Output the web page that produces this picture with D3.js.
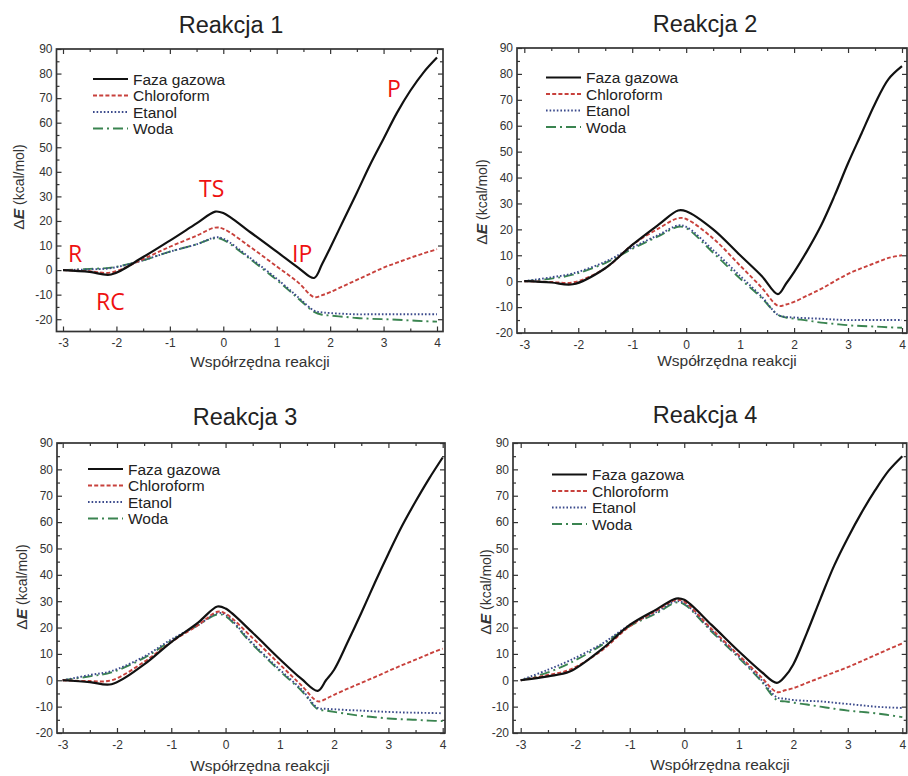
<!DOCTYPE html>
<html>
<head>
<meta charset="utf-8">
<script src="https://cdn.jsdelivr.net/npm/d3@7"></script>
<style>
  body { margin: 0; background: #fff; }
  svg { display: block; font-family: "Liberation Sans", Arial, sans-serif; }
  .tick text { fill: #333; font-size: 12px; }
  .tick line { stroke: #333; stroke-width: 1.2; }
</style>
</head>
<body>
<div id="chart"></div>
<script>
// reaction coordinate grid (shared by all curves)
var coord = [-3, -2.5, -2.1, -1.5, -1, -0.5, -0.15, 0, 0.5, 1, 1.4, 1.7, 1.85, 2, 2.25, 2.5, 2.75, 3, 3.25, 3.5, 3.75, 4];

// Reakcja 1
var r1Gas = [0, -0.7, -1.8, 5.3, 12, 19, 23.8, 23.2, 15.5, 7.5, 1, -3.2, 2.5, 9, 20.3, 31.5, 43, 53.5, 64, 73, 80.5, 86.5];
var r1Chl = [0, -0.5, -1, 4.5, 9.5, 14, 17.3, 16.8, 9.5, 1.5, -5, -11, -10.2, -9, -6.5, -4, -1.5, 1, 3, 5, 6.8, 8.5];
var r1Eta = [0, 0.3, 0.8, 4, 7.5, 10.5, 13.3, 12.8, 5, -3.5, -11, -16.5, -17.2, -17.5, -17.8, -18, -18, -18, -18, -18, -18, -18];
var r1Wat = [0, 0.5, 1, 4, 7.5, 10.5, 13, 12.3, 4.5, -4, -11.5, -17, -18.2, -18.5, -19, -19.5, -19.8, -20, -20.2, -20.5, -20.8, -21];

// Reakcja 2
var r2Gas = [0, -0.5, -1.2, 5, 14, 22, 27.3, 27, 20, 10, 2, -5, -1, 3.5, 12, 21.5, 33, 45.5, 57, 68.5, 78, 83];
var r2Chl = [0, -0.3, -0.5, 5, 14, 20.5, 24.3, 24, 16.5, 6, -2.5, -9.5, -9, -8, -5.5, -3, 0, 2.8, 5, 7, 9, 10];
var r2Eta = [0, 1.5, 3, 7.5, 13, 18, 21.5, 21, 12, 2, -6, -13, -13.8, -14, -14.3, -14.5, -14.8, -15, -15, -15, -15, -15];
var r2Wat = [0, 1, 2.5, 7, 12.5, 17.5, 21, 20.5, 11, 1, -6.5, -13, -14, -14.5, -15.2, -16, -16.5, -17, -17.3, -17.5, -17.8, -18];

// Reakcja 3
var r3Gas = [0, -0.7, -1.5, 6, 14.5, 22, 28, 27.2, 18, 8, 0.5, -4, 0, 4, 14.5, 25.5, 37, 48, 58.5, 67.8, 76.5, 84.5];
var r3Chl = [0, -0.3, 0, 7, 14.5, 21, 26, 25.3, 16, 6, -2, -8, -7, -5.5, -3.2, -1, 1.2, 3.5, 5.7, 7.8, 10, 12];
var r3Eta = [0, 2, 3.5, 9, 15.5, 21, 25.5, 24.8, 14, 4, -3.5, -10.5, -10.8, -11, -11.3, -11.5, -11.8, -12, -12.2, -12.3, -12.4, -12.5];
var r3Wat = [0, 1.5, 3, 8.5, 15, 21, 25, 24.3, 13.5, 3.5, -4, -11, -11.5, -12, -12.8, -13.5, -14, -14.5, -14.8, -15, -15.3, -15.5];

// Reakcja 4
var r4Gas = [0, 1.5, 3.3, 12, 21, 27, 31, 30.5, 21, 11, 3.5, -1, 1.5, 6, 18, 31, 43.5, 54, 63.5, 72, 79.5, 85];
var r4Chl = [0, 2, 4, 11.5, 20.5, 26.5, 30.5, 29.8, 19.5, 9.5, 1.5, -4.5, -3.8, -3, -1, 1, 3, 5, 7.2, 9.5, 11.8, 14];
var r4Eta = [0, 4, 7.5, 14, 21, 26, 30, 29.2, 19, 9, 0.5, -6.5, -7, -7.5, -7.8, -8, -8.5, -9, -9.5, -10, -10.3, -10.5];
var r4Wat = [0, 3, 6.5, 13.5, 20.5, 25.5, 29.5, 28.8, 18.5, 8.5, 0, -7.5, -8, -8.5, -9.2, -10, -10.8, -11.5, -12, -12.5, -13.2, -14];

var seriesNames = ["Faza gazowa", "Chloroform", "Etanol", "Woda"];
var titles = ["Reakcja 1", "Reakcja 2", "Reakcja 3", "Reakcja 4"];
var xTicks = [-3, -2, -1, 0, 1, 2, 3, 4];
var xMinor = [-2.5, -1.5, -0.5, 0.5, 1.5, 2.5, 3.5];
var yTicks = [-20, -10, 0, 10, 20, 30, 40, 50, 60, 70, 80, 90];
var yMinor = [-15, -5, 5, 15, 25, 35, 45, 55, 65, 75, 85];

// annotation labels on panel 1
var marks = ["R", "RC", "TS", "IP", "P"];

var allData = [
  [r1Gas, r1Chl, r1Eta, r1Wat],
  [r2Gas, r2Chl, r2Eta, r2Wat],
  [r3Gas, r3Chl, r3Eta, r3Wat],
  [r4Gas, r4Chl, r4Eta, r4Wat]
];

// line styles
var styles = [
  { color: "#111111", dash: null, width: 2.2 },
  { color: "#c8413c", dash: "4,2.2", width: 1.9 },
  { color: "#3b4a8c", dash: "1.6,2", width: 1.9 },
  { color: "#3a8450", dash: "10,4,2,4", width: 1.9 }
];

// panel geometry
var panels = [
  { left: 56.5, right: 443, top: 49, bottom: 331.5, xa: 63, xb: 437, yMin: -25,
    title: [231, 33], xlab: [260, 367], ylab: [19, 187], leg: [93, 79] },
  { left: 517, right: 907, top: 48, bottom: 333, xa: 524.3, xb: 902, yMin: -20,
    title: [705, 32], xlab: [727, 366], ylab: [482, 202], leg: [546, 77.5] },
  { left: 57, right: 445, top: 443, bottom: 733, xa: 62.7, xb: 442.7, yMin: -20,
    title: [245, 425], xlab: [260, 771], ylab: [22, 587], leg: [88, 469] },
  { left: 513, right: 906.7, top: 443, bottom: 733, xa: 520.7, xb: 902.3, yMin: -20,
    title: [705, 423], xlab: [720, 770], ylab: [486, 592], leg: [552, 474.5] }
];

var svg = d3.select("#chart").append("svg")
    .attr("width", 908)
    .attr("height", 776);

svg.append("rect").attr("width", 908).attr("height", 776).attr("fill", "#fff");

var fmt = function(d) { return String(d); };

panels.forEach(function(p, pi) {
  var x = d3.scaleLinear().domain([-3, 4]).range([p.xa, p.xb]);
  var y = d3.scaleLinear().domain([p.yMin, 90]).range([p.bottom, p.top]);
  var g = svg.append("g");

  // axes with inward ticks on all four sides
  var bottom = g.append("g").attr("transform", "translate(0," + p.bottom + ")");
  bottom.append("g").call(d3.axisBottom(x).tickValues(xTicks).tickSize(-5).tickPadding(7).tickFormat(fmt));
  bottom.append("g").call(d3.axisBottom(x).tickValues(xMinor).tickSize(-3).tickFormat(""));
  var top = g.append("g").attr("transform", "translate(0," + p.top + ")");
  top.append("g").call(d3.axisTop(x).tickValues(xTicks).tickSize(-5).tickFormat(""));
  top.append("g").call(d3.axisTop(x).tickValues(xMinor).tickSize(-3).tickFormat(""));
  var left = g.append("g").attr("transform", "translate(" + p.left + ",0)");
  left.append("g").call(d3.axisLeft(y).tickValues(yTicks).tickSize(-5).tickPadding(4).tickFormat(fmt));
  left.append("g").call(d3.axisLeft(y).tickValues(yMinor).tickSize(-3).tickFormat(""));
  var right = g.append("g").attr("transform", "translate(" + p.right + ",0)");
  right.append("g").call(d3.axisRight(y).tickValues(yTicks).tickSize(-5).tickFormat(""));
  right.append("g").call(d3.axisRight(y).tickValues(yMinor).tickSize(-3).tickFormat(""));
  g.selectAll(".domain").remove();

  // frame
  g.append("rect")
      .attr("x", p.left).attr("y", p.top)
      .attr("width", p.right - p.left).attr("height", p.bottom - p.top)
      .attr("fill", "none").attr("stroke", "#333").attr("stroke-width", 1.7);

  // curves
  var line = d3.line()
      .x(function(d) { return x(d[0]); })
      .y(function(d) { return y(d[1]); })
      .curve(d3.curveCatmullRom.alpha(0.5));

  allData[pi].slice().reverse().forEach(function(vals, ri) {
    var st = styles[3 - ri];
    g.append("path")
        .datum(coord.map(function(c, i) { return [c, vals[i]]; }))
        .attr("fill", "none")
        .attr("stroke", st.color)
        .attr("stroke-width", st.width)
        .attr("stroke-dasharray", st.dash)
        .attr("d", line);
  });

  // legend
  var legend = g.append("g").attr("transform", "translate(" + p.leg[0] + "," + p.leg[1] + ")");
  seriesNames.forEach(function(name, i) {
    var st = styles[i];
    var row = legend.append("g").attr("transform", "translate(0," + (i * 16.5) + ")");
    row.append("line")
        .attr("x1", 0).attr("x2", 35).attr("y1", 0).attr("y2", 0)
        .attr("stroke", st.color).attr("stroke-width", st.width)
        .attr("stroke-dasharray", st.dash);
    row.append("text")
        .attr("x", 40).attr("y", 5.5)
        .attr("font-size", 15.5).attr("fill", "#222")
        .text(name);
  });

  // titles and axis labels
  g.append("text")
      .attr("x", p.title[0]).attr("y", p.title[1])
      .attr("text-anchor", "middle").attr("font-size", 23.5).attr("fill", "#222")
      .text(titles[pi]);

  g.append("text")
      .attr("x", p.xlab[0]).attr("y", p.xlab[1])
      .attr("text-anchor", "middle").attr("font-size", 15.5).attr("fill", "#333")
      .text("Współrzędna reakcji");

  var yl = g.append("text")
      .attr("transform", "translate(" + p.ylab[0] + "," + p.ylab[1] + ") rotate(-90)")
      .attr("text-anchor", "middle").attr("dy", "0.35em")
      .attr("font-size", 15.5).attr("fill", "#333");
  yl.append("tspan").text("Δ");
  yl.append("tspan").attr("font-weight", "bold").attr("font-style", "italic").text("E");
  yl.append("tspan").attr("font-size", 14).text(" (kcal/mol)");
});

// red stage labels on the first panel
var markPos = [[68, 262], [96, 310], [199, 197], [292, 262], [387, 97]];
svg.append("g").selectAll("text")
    .data(marks)
    .enter().append("text")
      .attr("x", function(d, i) { return markPos[i][0]; })
      .attr("y", function(d, i) { return markPos[i][1]; })
      .attr("font-family", "'Open Sans', 'Noto Sans', sans-serif")
      .attr("font-size", 23)
      .attr("fill", "#ee1111")
      .text(function(d) { return d; });
</script>
</body>
</html>
